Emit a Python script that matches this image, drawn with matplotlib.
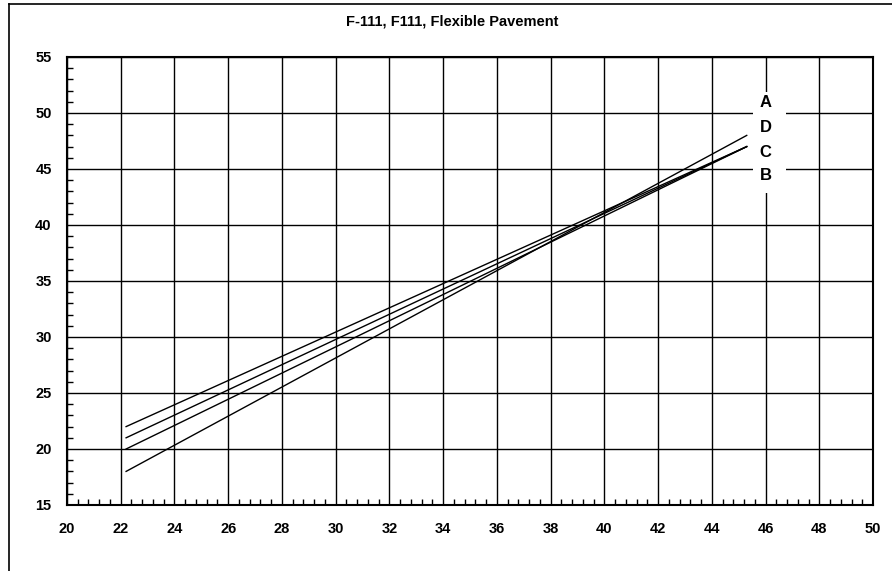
import matplotlib.pyplot as plt
from matplotlib.ticker import MultipleLocator
from matplotlib.patches import Rectangle
from matplotlib.lines import Line2D

plt.rcParams['font.family'] = ['Liberation Sans', 'DejaVu Sans']

#dados das linhas
x_ini = 22.2
x_fim = 45.3
y_ini = [22.0, 21.0, 20.0, 18.0]
y_fim = [47.0, 47.0, 47.0, 48.0]

#rotulos
rotulos = ['A', 'D', 'C', 'B']
rot_x = 46
rot_y = [50.9, 48.7, 46.5, 44.4]

fig = plt.figure(figsize=(8.92, 5.71), dpi=100)
ax = fig.add_axes([67/892, 1 - 505/571, (873-67)/892, (505-57)/571])

for a, b in zip(y_ini, y_fim):
    ax.plot([x_ini, x_fim], [a, b], color='black', lw=1, zorder=3)

ax.set_xlim(20, 50)
ax.set_ylim(15, 55)
ax.xaxis.set_major_locator(MultipleLocator(2))
ax.xaxis.set_minor_locator(MultipleLocator(0.4))
ax.yaxis.set_major_locator(MultipleLocator(5))
ax.yaxis.set_minor_locator(MultipleLocator(1))
ax.grid(True, which='major', color='black', lw=1, zorder=1)
ax.set_axisbelow(True)
ax.tick_params(which='major', length=0, labelsize=10.5)
ax.tick_params(axis='x', which='major', pad=12)
ax.tick_params(axis='y', which='major', pad=11)
ax.tick_params(which='minor', direction='in', length=4, width=1)
for lab in ax.get_xticklabels() + ax.get_yticklabels():
    lab.set_fontweight('bold')
for s in ax.spines.values():
    s.set_linewidth(1.5)

#caixa branca dos rotulos
ax.add_patch(Rectangle((45.53, 42.86), 1.23, 9.04, facecolor='white',
                       edgecolor='none', zorder=4))
for r, y in zip(rotulos, rot_y):
    ax.text(rot_x, y, r, ha='center', va='center', fontsize=12,
            fontweight='bold', zorder=5)

#titulo
fig.text(452/892, 1 - 22/571, 'F-111, F111, Flexible Pavement', fontsize=10.5,
         fontweight='bold', ha='center', va='center')

#moldura
fig.add_artist(Line2D([9/892, 9/892], [0, 1 - 4/571], color='black', lw=1.2))
fig.add_artist(Line2D([9/892, 1], [1 - 4/571, 1 - 4/571], color='black', lw=1.2))

fig.savefig('out.png', dpi=100)
